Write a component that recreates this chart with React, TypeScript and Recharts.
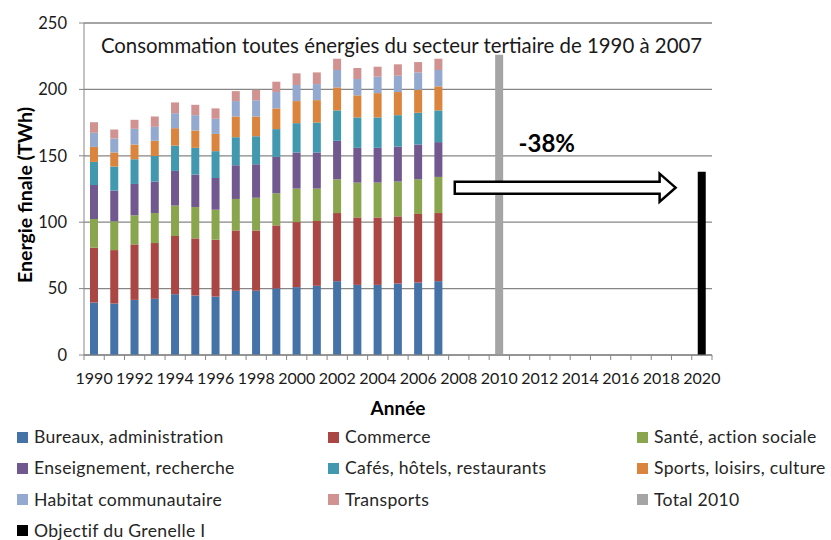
import React from 'react';
import { BarChart, Bar, XAxis, YAxis, CartesianGrid, Legend, ReferenceLine, Label } from 'recharts';

const years = ['1990','1991','1992','1993','1994','1995','1996','1997','1998','1999','2000','2001','2002','2003','2004','2005','2006','2007','2008','2009','2010','2011','2012','2013','2014','2015','2016','2017','2018','2019','2020'];

const bureaux = [39.5, 38.7, 41.5, 42.3, 45.8, 44.8, 44.0, 48.3, 48.3, 50.1, 51.1, 52.1, 55.6, 52.8, 52.8, 53.8, 54.6, 55.6];
const commerce = [41.3, 40.3, 41.8, 42.0, 43.8, 43.0, 42.8, 45.5, 45.5, 47.5, 49.0, 48.8, 51.3, 50.8, 50.8, 50.6, 51.6, 51.3];
const sante = [21.6, 21.6, 21.9, 22.6, 22.9, 23.6, 22.6, 23.7, 24.7, 24.2, 25.2, 24.4, 25.4, 26.2, 26.2, 26.2, 26.1, 27.2];
const enseignement = [25.6, 23.2, 23.6, 23.7, 26.1, 24.4, 23.9, 25.4, 25.1, 27.4, 27.2, 27.2, 29.0, 26.2, 26.2, 26.4, 26.2, 26.2];
const cafes = [17.4, 18.1, 18.6, 19.3, 19.1, 20.2, 20.2, 21.1, 21.2, 20.9, 22.1, 22.6, 22.9, 22.9, 22.9, 23.6, 23.9, 23.9];
const sports = [11.3, 10.6, 11.1, 11.4, 13.1, 13.1, 13.0, 15.6, 14.8, 15.6, 16.6, 16.8, 17.3, 16.6, 18.3, 17.4, 17.3, 18.1];
const habitat = [10.6, 10.5, 11.8, 10.5, 11.3, 11.5, 11.4, 11.6, 12.3, 12.3, 12.1, 12.1, 13.1, 12.3, 12.4, 12.3, 13.1, 12.3];
const transports = [8.0, 6.8, 6.8, 7.8, 8.1, 7.8, 7.8, 7.5, 7.8, 7.8, 8.8, 8.8, 8.5, 8.3, 7.5, 8.6, 7.8, 8.5];
const total2010 = [{ year: '2010', value: 226 }];
const objectif = [{ year: '2020', value: 138 }];

const yTicks = [0, 50, 100, 150, 200, 250];

const seriesDefs = [
  { key: 'bureaux', name: 'Bureaux, administration', color: '#4572A7', values: bureaux },
  { key: 'commerce', name: 'Commerce', color: '#AA4643', values: commerce },
  { key: 'sante', name: 'Santé, action sociale', color: '#89A54E', values: sante },
  { key: 'enseignement', name: 'Enseignement, recherche', color: '#71588F', values: enseignement },
  { key: 'cafes', name: 'Cafés, hôtels, restaurants', color: '#4198AF', values: cafes },
  { key: 'sports', name: 'Sports, loisirs, culture', color: '#DB843D', values: sports },
  { key: 'habitat', name: 'Habitat communautaire', color: '#93A9CF', values: habitat },
  { key: 'transports', name: 'Transports', color: '#D19392', values: transports },
];

const legendOrder = [
  ...seriesDefs.map((s) => s.name),
  'Total 2010',
  'Objectif du Grenelle I',
];

const data = years.map((y, i) => {
  const row: any = { year: y };
  seriesDefs.forEach((s) => { row[s.key] = i < s.values.length ? s.values[i] : null; });
  const t = total2010.find((d) => d.year === y);
  row.total2010 = t ? t.value : null;
  const o = objectif.find((d) => d.year === y);
  row.objectif = o ? o.value : null;
  return row;
});

const W = 831;
const H = 540;
const MARGIN = { top: 23, right: 119, left: 24, bottom: 125 };
const Y_W = 60;
const X_H = 60;
const PLOT_W = W - MARGIN.left - MARGIN.right - Y_W;
const CAT_W = PLOT_W / years.length;
const TICK_SIZE = 5;
const TICK_MARGIN = 10;
const FONT = 'Lato, "Liberation Sans", sans-serif';
const AXIS_COLOR = '#868686';

const XTick = (props: any) => {
  const { x, y, payload, index } = props;
  const axisY = y - TICK_SIZE - TICK_MARGIN;
  const half = CAT_W / 2;
  const idx = typeof index === 'number' ? index : years.indexOf(payload.value);
  return (
    <g>
      <line x1={x - half} x2={x - half} y1={axisY} y2={axisY + 5} stroke={AXIS_COLOR} strokeWidth={1} />
      {idx === years.length - 1 && (
        <line x1={x + half} x2={x + half} y1={axisY} y2={axisY + 5} stroke={AXIS_COLOR} strokeWidth={1} />
      )}
      {idx % 2 === 0 && (
        <text x={x} y={axisY + 29} textAnchor="middle" fontSize={16} fill="#1a1a1a" fontFamily={FONT}>
          {payload.value}
        </text>
      )}
    </g>
  );
};

const ArrowShape = (props: any) => {
  const { x1, y1, x2 } = props;
  if (x1 == null || y1 == null || x2 == null) return null;
  const left = x1 - 4;
  const tip = x2 - 6;
  const headLen = 16;
  const sh = 6;
  const hh = 14;
  const cy = y1;
  const d = `M${left},${cy - sh} L${tip - headLen},${cy - sh} L${tip - headLen},${cy - hh} L${tip},${cy} L${tip - headLen},${cy + hh} L${tip - headLen},${cy + sh} L${left},${cy + sh} Z`;
  return (
    <g>
      <path d={d} fill="#fff" stroke="#000" strokeWidth={2.5} strokeLinejoin="miter" />
      <text x={left + 92} y={cy - 36} textAnchor="middle" fontSize={24} fontWeight="bold" fill="#000" fontFamily={FONT}>
        -38%
      </text>
    </g>
  );
};

const LegendGrid = (props: any) => {
  const payload = props.payload || [];
  const cols = [17, 328, 637];
  const items = legendOrder
    .map((n) => payload.find((p: any) => p.value === n))
    .filter(Boolean);
  return (
    <div style={{ position: 'relative', width: W, height: 112, fontFamily: FONT }}>
      {items.map((p: any, i: number) => {
        const col = i % 3;
        const row = Math.floor(i / 3);
        return (
          <div
            key={p.value}
            style={{
              position: 'absolute',
              left: cols[col],
              top: row * 31.3,
              height: 18,
              lineHeight: '18px',
              display: 'flex',
              alignItems: 'center',
              whiteSpace: 'nowrap',
            }}
          >
            <span style={{ display: 'inline-block', width: 11, height: 11, background: p.color, marginRight: 6 }} />
            <span style={{ fontSize: 17.6, color: '#262626', letterSpacing: 0.3 }}>{p.value}</span>
          </div>
        );
      })}
    </div>
  );
};

export default function App() {
  return (
    <div style={{ position: 'absolute', left: 0, top: 0, width: W, height: H, background: '#fff', overflow: 'hidden' }}>
      <BarChart width={W} height={H} data={data} margin={MARGIN} barSize={8}>
        <CartesianGrid vertical={false} stroke={AXIS_COLOR} strokeWidth={1.3} />
        <XAxis
          dataKey="year"
          interval={0}
          height={X_H}
          tickSize={TICK_SIZE}
          tickMargin={TICK_MARGIN}
          tickLine={false}
          axisLine={{ stroke: AXIS_COLOR }}
          tick={<XTick />}
        >
          <Label
            content={(p: any) => {
              const vb = p.viewBox || {};
              return (
                <text x={vb.x + vb.width / 2} y={vb.y + 60} textAnchor="middle" fontSize={19} fontWeight="bold" fill="#000" fontFamily={FONT}>
                  Année
                </text>
              );
            }}
          />
        </XAxis>
        <YAxis
          width={Y_W}
          domain={[0, 250]}
          ticks={yTicks}
          interval={0}
          tickSize={TICK_SIZE}
          tickMargin={12}
          axisLine={{ stroke: AXIS_COLOR }}
          tickLine={{ stroke: AXIS_COLOR }}
          tick={{ fontSize: 16.5, fill: '#1a1a1a', fontFamily: FONT }}
        >
          <Label
            content={(p: any) => {
              const vb = p.viewBox || {};
              const cx = 24;
              const cy = vb.y + vb.height / 2 + 6;
              return (
                <text x={cx} y={cy} transform={`rotate(-90, ${cx}, ${cy})`} textAnchor="middle" dominantBaseline="central" fontSize={19.5} fontWeight="bold" fill="#000" fontFamily={FONT}>
                  Energie finale (TWh)
                </text>
              );
            }}
          />
        </YAxis>
        {seriesDefs.map((s) => (
          <Bar key={s.key} dataKey={s.key} name={s.name} stackId="a" fill={s.color} isAnimationActive={false} />
        ))}
        <Bar dataKey="total2010" name="Total 2010" stackId="a" fill="#A5A5A5" isAnimationActive={false} />
        <Bar dataKey="objectif" name="Objectif du Grenelle I" stackId="a" fill="#000000" isAnimationActive={false} />
        <ReferenceLine
          segment={[{ x: '2008', y: 126 }, { x: '2019', y: 126 }]}
          shape={<ArrowShape />}
          ifOverflow="visible"
        />
        <Legend
          layout="horizontal"
          verticalAlign="middle"
          align="center"
          wrapperStyle={{ position: 'absolute', left: 0, top: 428, width: W, height: 112 }}
          content={<LegendGrid />}
        />
      </BarChart>
      <div
        style={{
          position: 'absolute',
          left: 0,
          top: 33,
          width: 803,
          textAlign: 'center',
          fontFamily: FONT,
          fontSize: 20.4,
          color: '#1a1a1a',
          whiteSpace: 'nowrap',
          lineHeight: '24px',
        }}
      >
        Consommation toutes énergies du secteur tertiaire de 1990 à 2007
      </div>
    </div>
  );
}
